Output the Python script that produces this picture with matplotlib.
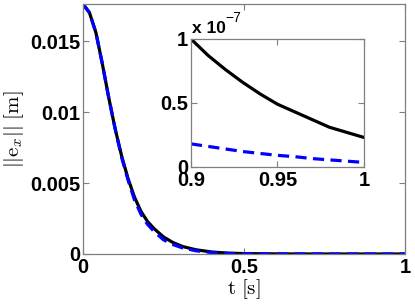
import numpy as np
import matplotlib
matplotlib.use('Agg')
import matplotlib.pyplot as plt

plt.rcParams['font.family'] = ['Liberation Sans', 'DejaVu Sans']
plt.rcParams['mathtext.fontset'] = 'cm'

# --- datos ---
t = [0, 0.02, 0.04, 0.06, 0.08, 0.10, 0.12, 0.14, 0.16, 0.18, 0.20, 0.22,
     0.25, 0.28, 0.31, 0.35, 0.40, 0.45, 0.50, 0.60, 0.70, 0.80, 0.90, 1.00]
err_black = [0.0176, 0.0170, 0.0156, 0.0134, 0.0110, 0.0088, 0.0069, 0.0053,
             0.0040, 0.0030, 0.0023, 0.0018, 0.0012, 0.00080, 0.00052, 0.00030,
             0.00014, 0.00006, 0.00003, 0.000006, 0.000001, 2e-7, 1e-7, 2.3e-8]
err_blue = [0.0176, 0.0170, 0.0156, 0.0134, 0.0110, 0.0088, 0.0068, 0.0052,
            0.0038, 0.0028, 0.0021, 0.0016, 0.0010, 0.00066, 0.00042, 0.00023,
            0.00010, 0.00004, 0.00002, 0.000004, 0.0000008, 1e-7, 1.9e-8, 3.2e-9]

# zoom entre 0.9 y 1 s (unidades de 1e-7)
t_zoom = [0.90, 0.91, 0.92, 0.93, 0.94, 0.95, 0.96, 0.97, 0.98, 0.99, 1.00]
zoom_black = [1.0, 0.87, 0.76, 0.66, 0.57, 0.49, 0.43, 0.37, 0.31, 0.27, 0.23]
zoom_blue = [0.18, 0.16, 0.14, 0.12, 0.105, 0.09, 0.08, 0.065, 0.055, 0.045, 0.035]

xticks = [0, 0.5, 1]
yticks = [0, 0.005, 0.01, 0.015]
xticks_zoom = [0.9, 0.95, 1]
yticks_zoom = [0, 0.5, 1]

gris = '#7f7f7f'
fig = plt.figure(figsize=(4.15, 3.04), dpi=100)

def estilo(ax):
    for s in ax.spines.values():
        s.set_color(gris)
        s.set_linewidth(0.9)
    ax.tick_params(direction='in', top=True, right=True, color=gris,
                   length=4, width=0.8, labelsize=14.5, pad=2)
    for lab in ax.get_xticklabels() + ax.get_yticklabels():
        lab.set_fontweight('bold')

ax = fig.add_axes([0.2, 0.1645, 0.776, 0.822])
ax.plot(t, err_black, 'k-', lw=2.3)
ax.plot(t, err_blue, color='#0000ff', ls=(0, (3.5, 2)), lw=2.3)
ax.set_xlim(0, 1)
ax.set_ylim(0, 0.0176)
ax.set_xticks(xticks)
ax.set_xticklabels(['0', '0.5', '1'])
ax.set_yticks(yticks)
ax.set_yticklabels(['0', '0.005', '0.01', '0.015'])
estilo(ax)
ax.tick_params(axis='x', pad=3)
ax.set_xlabel(r'$\mathrm{t}\ [\mathrm{s}]$', fontsize=15, labelpad=0)
ax.set_ylabel(r'$||\mathrm{e}_x||\ [\mathrm{m}]$', fontsize=15, labelpad=3)

axi = fig.add_axes([0.460, 0.451, 0.417, 0.421])
axi.plot(t_zoom, zoom_black, 'k-', lw=2.3)
axi.plot(t_zoom, zoom_blue, color='#0000ff', ls=(0, (3.5, 2)), lw=2.3)
axi.set_xlim(0.9, 1)
axi.set_ylim(0, 1)
axi.set_xticks(xticks_zoom)
axi.set_xticklabels(['0.9', '0.95', '1'])
axi.set_yticks(yticks_zoom)
axi.set_yticklabels(['0', '0.5', '1'])
estilo(axi)
axi.tick_params(axis='x', pad=3)

fig.text(0.463, 0.891, 'x 10', fontsize=12.5, fontweight='bold')
fig.text(0.542, 0.928, '\u22127', fontsize=10)

plt.savefig('out.png', dpi=100)
